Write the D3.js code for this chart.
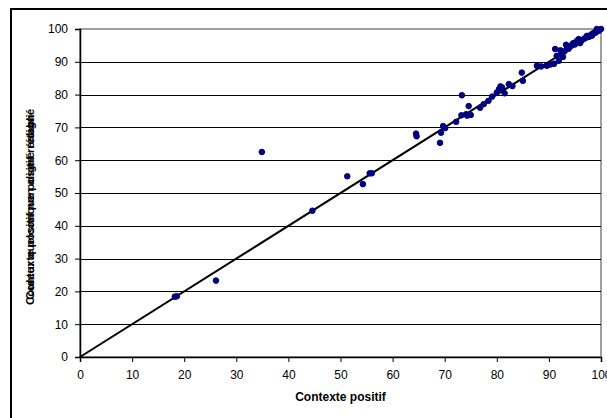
<!DOCTYPE html>
<meta charset="utf-8">
<script src="https://d3js.org/d3.v7.min.js"></script>
<style>
  body { margin: 0; background: #fff; }
  text { font-family: "Liberation Sans", Arial, sans-serif; }
</style>
<body>
<svg width="607" height="418"></svg>
<script>
    // values
    var xVals = [18.2, 18.6, 26.1, 34.9, 44.6, 51.3, 54.3, 55.6, 56.0,
                 64.5, 64.6, 69.1, 69.3, 69.7, 70.1, 72.2, 73.2, 73.3, 74.1, 74.6,
                 75.0, 76.8, 77.5, 78.4, 79.1, 80.0, 80.4, 81.0, 81.5, 82.3, 83.0,
                 84.8, 85.0, 87.7, 88.5, 89.6, 90.3, 91.2, 91.5, 91.9, 92.4,
                 93.0, 93.5, 94.0, 94.4, 95.0, 95.4, 95.9, 96.3, 96.8, 97.3,
                 97.7, 98.1, 98.5, 98.9, 99.2, 99.6, 100, 92.7, 93.8, 94.9, 96.0,
                 92.2, 93.3, 94.6, 95.7, 97.0, 98.3, 99.0, 80.7, 74.3, 91.0];
    var yVals = [18.4, 18.5, 23.3, 62.5, 44.6, 55.1, 52.7, 56.0, 56.0,
                 68.1, 67.3, 65.3, 68.4, 70.4, 69.8, 71.7, 73.7, 79.8, 74.0, 76.5,
                 73.8, 76.0, 77.1, 78.1, 79.4, 80.6, 81.6, 82.2, 80.4, 83.2, 82.6,
                 86.7, 84.2, 88.8, 88.6, 88.8, 89.2, 93.9, 91.8, 90.3, 92.3,
                 93.2, 94.4, 94.6, 95.0, 95.3, 96.4, 96.0, 96.5, 97.1, 97.9,
                 97.6, 98.3, 98.7, 99.1, 100, 99.5, 100, 91.5, 94.0, 95.8, 95.7,
                 93.5, 95.2, 95.6, 96.9, 97.2, 98.0, 98.9, 82.5, 73.6, 89.4];
    var xTicks = d3.range(0, 101, 10);
    var yTicks = d3.range(0, 101, 10);
    var diagonal = [[0, 0], [100, 100]];

    var svg = d3.select('svg');
    var pLeft = 80, pRight = 601, pTop = 29, pBottom = 357;

    var x = d3.scaleLinear().domain([0, 100]).range([pLeft, pRight]);
    var y = d3.scaleLinear().domain([0, 100]).range([pBottom, pTop]);

    // outer frame
    svg.append('rect')
        .attr('x', 11).attr('y', 9)
        .attr('width', 620).attr('height', 430)
        .attr('fill', 'none').attr('stroke', '#000').attr('stroke-width', 2);

    // plot area border
    svg.append('rect')
        .attr('x', pLeft).attr('y', pTop)
        .attr('width', pRight - pLeft).attr('height', pBottom - pTop)
        .attr('fill', 'none').attr('stroke', '#808080').attr('stroke-width', 1.5);

    // horizontal gridlines
    svg.append('g').selectAll('line')
        .data(yTicks.filter(function(d){ return d > 0 && d < 100; }))
        .enter().append('line')
        .attr('x1', pLeft).attr('x2', pRight)
        .attr('y1', function(d){ return Math.round(y(d)) + 0.5; })
        .attr('y2', function(d){ return Math.round(y(d)) + 0.5; })
        .attr('stroke', '#000').attr('stroke-width', 1);

    var xAxis = svg.append('g')
        .attr('transform', 'translate(0,' + pBottom + ')')
        .call(d3.axisBottom(x).tickValues(xTicks).tickSize(5).tickPadding(8));
    var yAxis = svg.append('g')
        .attr('transform', 'translate(' + pLeft + ',0)')
        .call(d3.axisLeft(y).tickValues(yTicks).tickSize(5).tickPadding(7));

    [xAxis, yAxis].forEach(function(g){
        g.select('.domain').attr('stroke', '#000').attr('stroke-width', 1.5);
        g.selectAll('.tick line').attr('stroke', '#000');
        g.selectAll('.tick text')
            .attr('fill', '#000')
            .style('font-size', '12px')
            .style('font-family', '"Liberation Sans", Arial, sans-serif');
    });

    // diagonal y = x
    svg.append('path')
        .datum(diagonal)
        .attr('fill', 'none').attr('stroke', '#000').attr('stroke-width', 2)
        .attr('d', d3.line().x(function(d){ return x(d[0]); }).y(function(d){ return y(d[1]); }));

    // points
    var pts = xVals.map(function(v, i){ return [v, yVals[i]]; });
    svg.append('g').selectAll('circle')
        .data(pts)
        .enter().append('circle')
        .attr('cx', function(d){ return x(d[0]); })
        .attr('cy', function(d){ return y(d[1]); })
        .attr('r', 2.8)
        .attr('fill', '#000080')
        .attr('stroke', '#000080').attr('stroke-width', 1);

    // axis titles
    svg.append('text')
        .attr('x', (pLeft + pRight) / 2).attr('y', 401)
        .attr('text-anchor', 'middle')
        .style('font-size', '12px').style('font-weight', 'bold')
        .text('Contexte positif');

    // y title: two labels drawn on top of each other, as in the picture
    ['Contexte positif non aligné rétabli', 'Couleur quelconque positif réaligné'].forEach(function(t){
        svg.append('text')
            .attr('transform', 'translate(34,207) rotate(-90)')
            .attr('text-anchor', 'middle')
            .style('font-size', '11.5px').style('font-weight', 'bold')
            .text(t);
    });
</script>
</body>
